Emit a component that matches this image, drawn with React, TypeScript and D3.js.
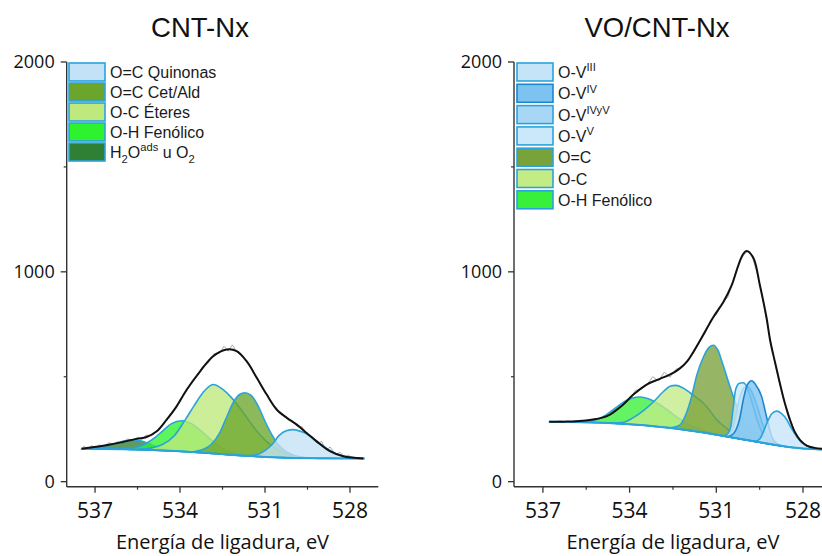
import React from "react";
import * as d3 from "d3";

type Pt = [number, number];
type Seg = { t: string; s?: "sup" | "sub" };

const W = 822;
const H = 556;

const xTicks = [537, 534, 531, 528];
const xMinorTicks = [535.5, 532.5, 529.5];
const yTicks = [0, 1000, 2000];
const yMinorTicks = [500, 1500];
const xLabel = "Energía de ligadura, eV";

// ---------- CNT-Nx ----------
const cntTitle = "CNT-Nx";
const cntBgE = [537.5, 536, 535, 534, 533, 532, 531, 530, 529, 527.5];
const cntBgI = [157, 155, 151, 145, 136, 126, 118, 113, 111, 110];

const cntH2O: Pt[] = [[537.4, 0], [537.0, 5], [536.6, 14], [536.2, 30], [535.9, 41], [535.65, 46], [535.4, 42], [535.1, 30], [534.8, 16], [534.5, 6], [534.1, 0]];
const cntFenolico: Pt[] = [[536.3, 0], [535.9, 3], [535.5, 12], [535.2, 30], [534.9, 58], [534.6, 95], [534.3, 130], [533.94, 146], [533.6, 135], [533.3, 108], [533.0, 75], [532.7, 44], [532.4, 20], [532.0, 6], [531.6, 0]];
const cntEteres: Pt[] = [[535.5, 0], [535.0, 10], [534.6, 30], [534.2, 73], [533.8, 155], [533.5, 222], [533.2, 285], [532.83, 329], [532.5, 310], [532.2, 275], [531.9, 228], [531.6, 175], [531.3, 122], [531.0, 80], [530.6, 40], [530.2, 17], [529.8, 6], [529.3, 0]];
const cntCetAld: Pt[] = [[533.6, 0], [533.2, 15], [532.9, 42], [532.6, 100], [532.35, 180], [532.1, 255], [531.9, 290], [531.71, 300], [531.5, 290], [531.24, 240], [531.0, 170], [530.75, 105], [530.5, 55], [530.2, 25], [529.9, 9], [529.5, 0]];
const cntQuinonas: Pt[] = [[531.6, 0], [531.3, 8], [531.0, 30], [530.75, 60], [530.5, 105], [530.25, 128], [530.0, 135], [529.7, 125], [529.4, 105], [529.1, 75], [528.8, 45], [528.5, 23], [528.2, 11], [527.9, 5], [527.5, 1]];

const cntEnvelope: Pt[] = [[537.47, 157], [536.47, 177], [535.53, 204], [535.18, 213], [534.82, 240], [534.47, 296], [534.12, 359], [533.76, 439], [533.29, 526], [532.83, 598], [532.35, 630], [532.0, 622], [531.65, 574], [531.29, 495], [530.94, 415], [530.59, 344], [530.23, 304], [529.88, 272], [529.53, 232], [529.18, 192], [528.71, 145], [528.24, 121], [527.53, 110]];
const cntRaw: Pt[] = [[537.5, 152], [537.4, 168], [537.25, 158], [537.1, 172], [537.0, 160], [536.85, 175], [536.7, 168], [536.5, 186], [536.35, 174], [536.2, 190], [536.0, 182], [535.85, 205], [535.7, 192], [535.5, 212], [535.35, 200], [535.2, 222], [535.0, 218], [534.8, 245], [534.6, 272], [534.45, 300], [534.25, 330], [534.0, 392], [533.8, 425], [533.6, 470], [533.4, 505], [533.2, 548], [533.0, 565], [532.8, 610], [532.6, 612], [532.45, 645], [532.3, 622], [532.15, 652], [532.0, 618], [531.85, 605], [531.7, 582], [531.5, 548], [531.3, 492], [531.1, 452], [530.95, 418], [530.8, 380], [530.6, 352], [530.45, 322], [530.3, 312], [530.15, 295], [530.0, 286], [529.85, 262], [529.7, 262], [529.5, 226], [529.3, 212], [529.15, 182], [529.0, 192], [528.85, 150], [528.7, 165], [528.5, 128], [528.35, 140], [528.2, 118], [528.05, 126], [527.9, 110], [527.7, 114]];

// ---------- VO/CNT-Nx ----------
const voTitle = "VO/CNT-Nx";
const voBgE = [536.8, 535.5, 534.5, 533.5, 532.5, 531.5, 531, 530.5, 530, 529.5, 529, 528.5, 528, 527.3];
const voBgI = [285, 283, 278, 269, 255, 236, 224, 212, 200, 188, 176, 165, 158, 153];

const voFenolico: Pt[] = [[535.8, 0], [535.4, 5], [535.1, 16], [534.8, 40], [534.5, 72], [534.2, 105], [533.9, 126], [533.64, 133], [533.35, 128], [533.0, 108], [532.7, 85], [532.4, 58], [532.1, 36], [531.8, 20], [531.4, 8], [531.0, 2], [530.6, 0]];
const voOC: Pt[] = [[534.6, 0], [534.2, 8], [533.9, 30], [533.5, 72], [533.18, 115], [532.83, 170], [532.6, 198], [532.4, 206], [532.15, 198], [531.91, 180], [531.7, 162], [531.45, 140], [531.2, 105], [530.99, 72], [530.75, 48], [530.53, 30], [530.3, 16], [530.07, 7], [529.7, 2], [529.3, 0]];
const voOeqC: Pt[] = [[532.6, 0], [532.3, 15], [532.05, 75], [531.85, 165], [531.68, 266], [531.45, 358], [531.25, 410], [531.1, 424], [530.95, 405], [530.76, 335], [530.53, 242], [530.29, 152], [530.07, 93], [529.72, 50], [529.26, 22], [528.9, 6], [528.5, 0]];
const voV5: Pt[] = [[530.75, 0], [530.6, 15], [530.5, 50], [530.41, 148], [530.33, 231], [530.2, 264], [530.07, 270], [529.95, 255], [529.8, 200], [529.6, 110], [529.4, 45], [529.2, 12], [528.9, 0]];
const voV45: Pt[] = [[530.7, 0], [530.5, 20], [530.35, 90], [530.2, 190], [530.05, 245], [529.93, 255], [529.8, 240], [529.6, 175], [529.4, 90], [529.2, 30], [529.0, 6], [528.8, 0]];
const voV4: Pt[] = [[530.6, 0], [530.4, 20], [530.2, 90], [530.05, 200], [529.92, 265], [529.78, 286], [529.65, 273], [529.43, 219], [529.26, 126], [529.08, 36], [528.85, 4], [528.6, 0]];
const voV3: Pt[] = [[529.65, 0], [529.5, 15], [529.35, 60], [529.26, 94], [529.08, 146], [528.91, 162], [528.75, 155], [528.56, 129], [528.4, 90], [528.22, 54], [528.05, 28], [527.87, 14], [527.6, 4], [527.3, 0]];

const voEnvelope: Pt[] = [[536.78, 285], [536.3, 286], [535.83, 288], [535.26, 296], [534.95, 305], [534.68, 320], [534.45, 342], [534.22, 368], [533.87, 415], [533.41, 463], [532.95, 490], [532.49, 519], [532.26, 540], [532.0, 575], [531.8, 617], [531.45, 700], [531.1, 785], [530.76, 855], [530.47, 935], [530.24, 1030], [530.07, 1085], [529.95, 1099], [529.72, 1067], [529.49, 935], [529.26, 780], [529.14, 675], [528.97, 570], [528.8, 469], [528.62, 370], [528.45, 294], [528.28, 236], [528.1, 198], [527.87, 172], [527.6, 161], [527.3, 156]];
const voRaw: Pt[] = [[536.7, 283], [536.4, 290], [536.1, 284], [535.8, 292], [535.5, 288], [535.2, 300], [534.9, 302], [534.6, 325], [534.4, 345], [534.2, 372], [534.0, 388], [533.8, 435], [533.6, 440], [533.4, 462], [533.2, 500], [533.0, 480], [532.8, 522], [532.6, 498], [532.4, 535], [532.2, 545], [532.0, 580], [531.8, 610], [531.6, 660], [531.4, 705], [531.2, 770], [531.0, 795], [530.8, 850], [530.6, 880], [530.4, 965], [530.2, 1045], [530.05, 1080], [529.9, 1100], [529.75, 1070], [529.6, 1000], [529.45, 910], [529.3, 800], [529.15, 690], [529.0, 585], [528.85, 490], [528.7, 400], [528.5, 325], [528.3, 240], [528.1, 200], [527.9, 172], [527.7, 163], [527.5, 152], [527.3, 160]];

// ---------- series definitions ----------
type Comp = { key: string; data: Pt[]; fill: string; stroke: string; label: Seg[] };

const STROKE = "#2aa3dc";

const cntComps: Comp[] = [
  { key: "q", data: cntQuinonas, fill: "#c4e2f7", stroke: STROKE, label: [{ t: "O=C Quinonas" }] },
  { key: "c", data: cntCetAld, fill: "#6ca52c", stroke: STROKE, label: [{ t: "O=C Cet/Ald" }] },
  { key: "e", data: cntEteres, fill: "#bfe97c", stroke: STROKE, label: [{ t: "O-C Éteres" }] },
  { key: "f", data: cntFenolico, fill: "#2ef22e", stroke: STROKE, label: [{ t: "O-H Fenólico" }] },
  { key: "h", data: cntH2O, fill: "#2f7f34", stroke: STROKE, label: [{ t: "H" }, { t: "2", s: "sub" }, { t: "O" }, { t: "ads", s: "sup" }, { t: " u  O" }, { t: "2", s: "sub" }] },
];
const cntDrawOrder = ["h", "f", "e", "c", "q"];

const voComps: Comp[] = [
  { key: "v3", data: voV3, fill: "#c6e4f8", stroke: STROKE, label: [{ t: "O-V" }, { t: "III", s: "sup" }] },
  { key: "v4", data: voV4, fill: "#7cc3f0", stroke: "#1c86d0", label: [{ t: "O-V" }, { t: "IV", s: "sup" }] },
  { key: "v45", data: voV45, fill: "#a8d7f5", stroke: STROKE, label: [{ t: "O-V" }, { t: "IVyV", s: "sup" }] },
  { key: "v5", data: voV5, fill: "#cbe8fa", stroke: STROKE, label: [{ t: "O-V" }, { t: "V", s: "sup" }] },
  { key: "oc2", data: voOeqC, fill: "#78a23a", stroke: STROKE, label: [{ t: "O=C" }] },
  { key: "oc", data: voOC, fill: "#c3eb86", stroke: STROKE, label: [{ t: "O-C" }] },
  { key: "oh", data: voFenolico, fill: "#38f03a", stroke: STROKE, label: [{ t: "O-H Fenólico" }] },
];
const voDrawOrder = ["oh", "oc", "oc2", "v45", "v5", "v4", "v3"];

const FONT_AX = "'Open Sans', 'DejaVu Sans', sans-serif";
const FONT_TXT = "'Liberation Sans', Arial, sans-serif";

function RichText({ x, y, segs, size }: { x: number; y: number; segs: Seg[]; size: number }) {
  let shift = 0;
  const spans = segs.map((sg, i) => {
    const target = sg.s === "sup" ? -size * 0.42 : sg.s === "sub" ? size * 0.3 : 0;
    const dy = target - shift;
    shift = target;
    return (
      <tspan key={i} dy={dy} fontSize={sg.s ? size * 0.7 : size}>
        {sg.t}
      </tspan>
    );
  });
  return (
    <text x={x} y={y} fontSize={size} fontFamily={FONT_TXT} fill="#1a1a1a">
      {spans}
    </text>
  );
}

type PanelProps = {
  title: string;
  titleX: number;
  x0: number;
  pxPerEv: number;
  axisEndX: number;
  bgE: number[];
  bgI: number[];
  comps: Comp[];
  order: string[];
  envelope: Pt[];
  raw: Pt[];
  legendX: number;
  legendStep: number;
};

function Panel(p: PanelProps) {
  const x = d3.scaleLinear().domain([538, 527]).range([p.x0, p.x0 + 11 * p.pxPerEv]);
  const y = d3.scaleLinear().domain([-24, 2000]).range([486.7, 62]);
  const bg = d3.scaleLinear().domain(p.bgE).range(p.bgI).clamp(true);
  const yAxisX = p.x0;
  const xAxisY = y(-24);

  const area = d3
    .area<Pt>()
    .x((d) => x(d[0]))
    .y0((d) => y(bg(d[0])))
    .y1((d) => y(bg(d[0]) + d[1]))
    .curve(d3.curveMonotoneX);

  const bgLine = d3
    .line<number>()
    .x((e) => x(e))
    .y((e) => y(bg(e)));
  const envLine = d3
    .line<Pt>()
    .x((d) => x(d[0]))
    .y((d) => y(d[1]))
    .curve(d3.curveCatmullRom.alpha(0.5));
  const rawLine = d3
    .line<Pt>()
    .x((d) => x(d[0]))
    .y((d) => y(d[1]));

  const byKey = new Map(p.comps.map((c) => [c.key, c]));

  return (
    <g>
      <text x={p.titleX} y={37} textAnchor="middle" fontFamily={FONT_TXT} fontSize={27.5} fill="#111">
        {p.title}
      </text>

      {/* raw data */}
      <path d={rawLine(p.raw) || ""} fill="none" stroke="#a0a0a0" strokeWidth={0.9} />

      {/* components */}
      {p.order.map((k) => {
        const c = byKey.get(k)!;
        return (
          <path
            key={k}
            d={area(c.data) || ""}
            fill={c.fill}
            fillOpacity={0.78}
            stroke={c.stroke}
            strokeWidth={1.6}
            strokeLinejoin="round"
          />
        );
      })}

      {/* background */}
      <path d={bgLine(p.bgE) || ""} fill="none" stroke={STROKE} strokeWidth={2} />

      {/* envelope */}
      <path d={envLine(p.envelope) || ""} fill="none" stroke="#111" strokeWidth={2} />

      {/* axes */}
      <line x1={yAxisX} x2={yAxisX} y1={y(2000)} y2={xAxisY} stroke="#333" strokeWidth={1.4} />
      <line x1={yAxisX} x2={p.axisEndX} y1={xAxisY} y2={xAxisY} stroke="#333" strokeWidth={1.4} />
      {yTicks.map((t) => (
        <g key={"y" + t}>
          <line x1={yAxisX - 6} x2={yAxisX} y1={y(t)} y2={y(t)} stroke="#333" strokeWidth={1.3} />
          <text
            x={yAxisX - 12}
            y={y(t)}
            dy="0.35em"
            textAnchor="end"
            fontFamily={FONT_AX}
            fontSize={18}
            fill="#111"
          >
            {t}
          </text>
        </g>
      ))}
      {yMinorTicks.map((t) => (
        <line key={"ym" + t} x1={yAxisX - 3} x2={yAxisX} y1={y(t)} y2={y(t)} stroke="#333" strokeWidth={1.2} />
      ))}
      {xTicks.map((t) => (
        <g key={"x" + t}>
          <line x1={x(t)} x2={x(t)} y1={xAxisY} y2={xAxisY + 6} stroke="#333" strokeWidth={1.3} />
          <text x={x(t)} y={xAxisY + 31} textAnchor="middle" fontFamily={FONT_AX} fontSize={21} fill="#111">
            {t}
          </text>
        </g>
      ))}
      {xMinorTicks.map((t) => (
        <line key={"xm" + t} x1={x(t)} x2={x(t)} y1={xAxisY} y2={xAxisY + 3} stroke="#333" strokeWidth={1.2} />
      ))}
      <text
        x={(x(537) + x(528)) / 2}
        y={549}
        textAnchor="middle"
        fontFamily={FONT_AX}
        fontSize={20}
        fill="#111"
      >
        {xLabel}
      </text>

      {/* legend */}
      {p.comps.map((c, i) => {
        const top = 63 + i * p.legendStep;
        return (
          <g key={"lg" + c.key}>
            <rect
              x={p.legendX}
              y={top}
              width={36}
              height={18}
              fill={c.fill}
              stroke={c.stroke}
              strokeWidth={1.6}
            />
            <RichText x={p.legendX + 41} y={top + 15} segs={c.label} size={16} />
          </g>
        );
      })}
    </g>
  );
}

export default function App() {
  return (
    <svg
      width={W}
      height={H}
      viewBox={`0 0 ${W} ${H}`}
      style={{ position: "absolute", left: 0, top: 0, background: "#fff" }}
    >
      <rect x={0} y={0} width={W} height={H} fill="#fff" />
      <Panel
        title={cntTitle}
        titleX={200}
        x0={66.7}
        pxPerEv={28.33}
        axisEndX={378.3}
        bgE={cntBgE}
        bgI={cntBgI}
        comps={cntComps}
        order={cntDrawOrder}
        envelope={cntEnvelope}
        raw={cntRaw}
        legendX={69}
        legendStep={20}
      />
      <Panel
        title={voTitle}
        titleX={657}
        x0={514}
        pxPerEv={28.9}
        axisEndX={830}
        bgE={voBgE}
        bgI={voBgI}
        comps={voComps}
        order={voDrawOrder}
        envelope={voEnvelope}
        raw={voRaw}
        legendX={517}
        legendStep={21.3}
      />
    </svg>
  );
}
